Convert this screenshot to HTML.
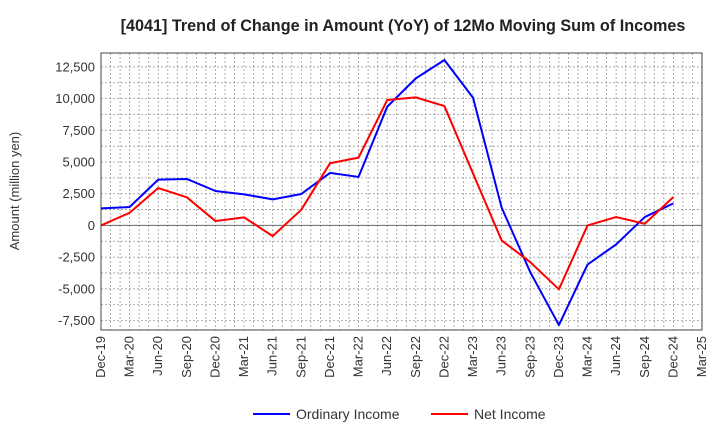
<!DOCTYPE html>
<html><head><meta charset="utf-8"><style>
body{margin:0;background:#fff;font-family:"Liberation Sans",Arial,sans-serif}
</style></head><body>
<svg width="720" height="440" xmlns="http://www.w3.org/2000/svg" font-family="Liberation Sans, Arial, sans-serif">
<text x="403" y="31" text-anchor="middle" font-size="16.2" font-weight="bold" fill="#222">[4041]  Trend of Change in Amount (YoY) of 12Mo Moving Sum of Incomes</text>
<text transform="translate(19,191) rotate(-90)" text-anchor="middle" font-size="13" fill="#333">Amount (million yen)</text>
<g id="grid"></g><g id="axes"></g><g id="series"></g>
<g>
<line x1="253" y1="414" x2="290" y2="414" stroke="#0000ff" stroke-width="2"/>
<text x="296" y="419" font-size="14" fill="#333">Ordinary Income</text>
<line x1="431" y1="414" x2="468" y2="414" stroke="#ff0000" stroke-width="2"/>
<text x="474" y="419" font-size="14" fill="#333">Net Income</text>
</g>
</svg>
<script>
const categories=["Dec-19","Mar-20","Jun-20","Sep-20","Dec-20","Mar-21","Jun-21","Sep-21","Dec-21","Mar-22","Jun-22","Sep-22","Dec-22","Mar-23","Jun-23","Sep-23","Dec-23","Mar-24","Jun-24","Sep-24","Dec-24","Mar-25"];
const ordinaryIncome=[1345,1450,3610,3665,2715,2450,2057,2480,4140,3824,9360,11600,13050,10070,1400,-3690,-7860,-3085,-1500,660,1740];
const netIncome=[0,1000,2950,2215,343,633,-844,1240,4900,5350,9890,10100,9415,4090,-1187,-2900,-5040,0,660,130,2240];
const yTicks=[12500,10000,7500,5000,2500,0,-2500,-5000,-7500];
const L=101,R=702,T=53,B=330,yMin=-8250,yMax=13600;
const xs=i=>L+i*(R-L)/(categories.length-1);
const ys=v=>B-(v-yMin)/(yMax-yMin)*(B-T);
const NS="http://www.w3.org/2000/svg";
function mk(t,a,p){const e=document.createElementNS(NS,t);for(const k in a)e.setAttribute(k,a[k]);p.appendChild(e);return e;}
const grid=document.getElementById('grid'),axes=document.getElementById('axes'),ser=document.getElementById('series');
const nx=(categories.length-1)*3;
for(let j=1;j<nx;j++){const x=L+j*(R-L)/nx;const l=mk('line',{x1:x,x2:x,y1:T,y2:B,stroke:'#999','stroke-width':0.8,'stroke-dasharray':'2,2'},grid);

}
for(let v=-7500;v<=12500;v+=1250){if(v===0)continue;const y=ys(v);const l=mk('line',{x1:L,x2:R,y1:y,y2:y,stroke:'#999','stroke-width':0.8,'stroke-dasharray':'2,2'},grid);

}
const z=mk('line',{x1:L,x2:R,y1:ys(0),y2:ys(0),stroke:'#666','stroke-width':1},grid);


const fr=mk('rect',{x:L,y:T,width:R-L,height:B-T,fill:'none',stroke:'#444','stroke-width':1},axes);


yTicks.forEach(v=>{const t=mk('text',{x:L-6,y:ys(v)+4.5,'text-anchor':'end','font-size':13,fill:'#333'},axes);t.textContent=v.toLocaleString('en-US');

});
categories.forEach((c,i)=>{const x=xs(i);const t=mk('text',{transform:`translate(${x+4},${B+6}) rotate(-90)`,'text-anchor':'end','font-size':13,fill:'#333'},axes);t.textContent=c;

});
function line(d,col,name){const p=mk('polyline',{points:d.map((v,i)=>xs(i)+','+ys(v)).join(' '),fill:'none',stroke:col,'stroke-width':2,'stroke-linejoin':'round'},ser);

}
line(ordinaryIncome,'#0000ff','ordinary-income-line');
line(netIncome,'#ff0000','net-income-line');
</script>
</body></html>
